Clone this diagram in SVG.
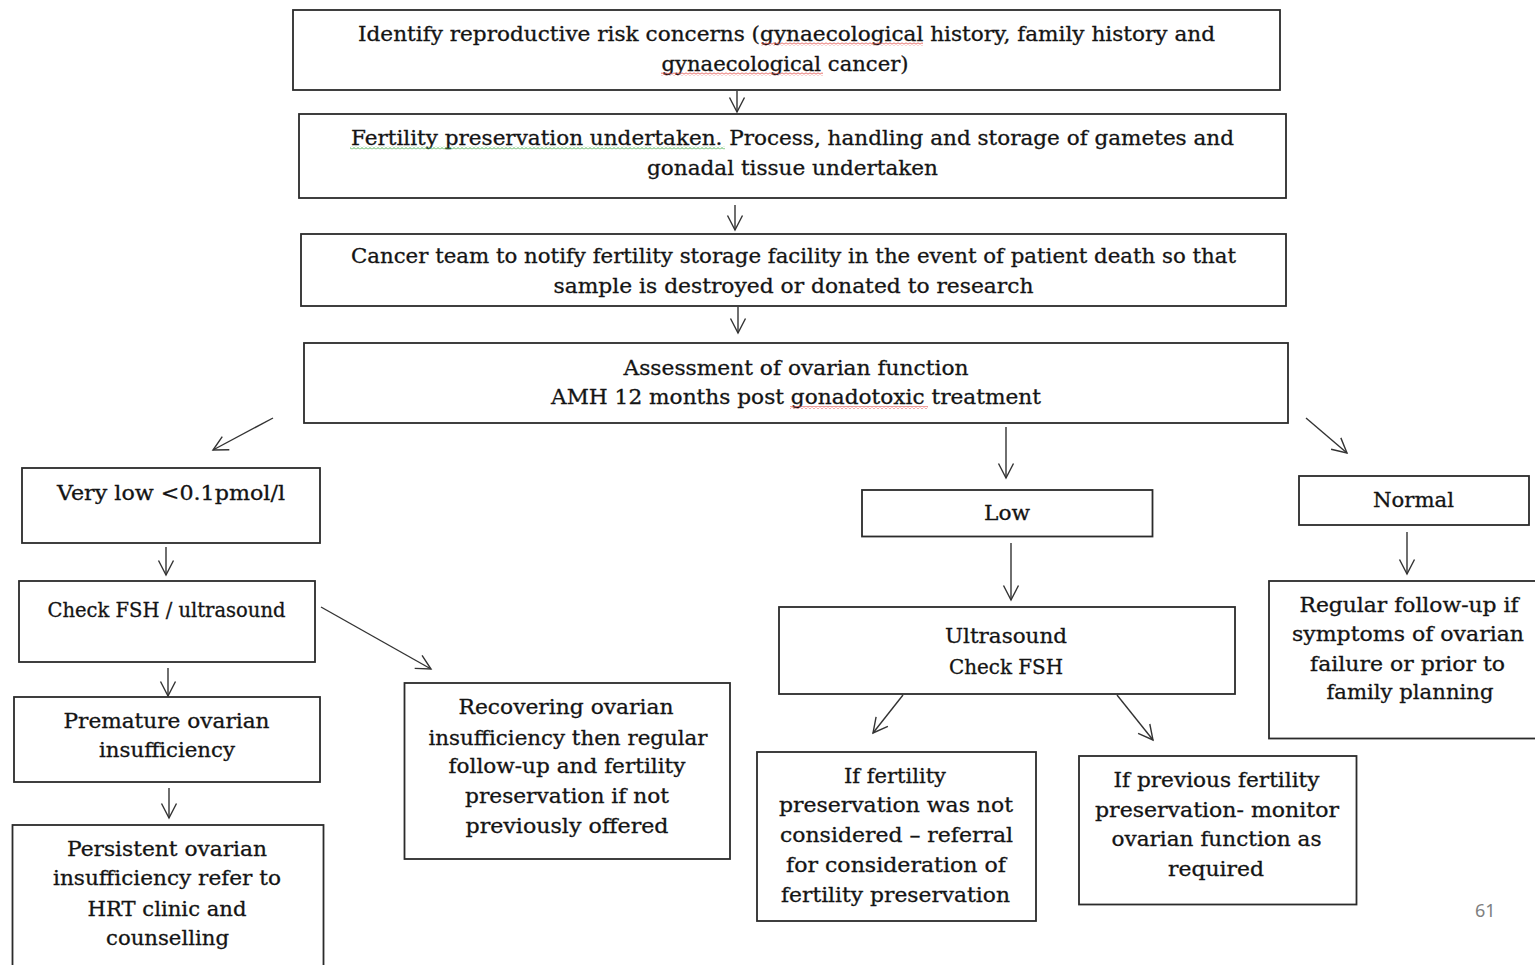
<svg xmlns="http://www.w3.org/2000/svg" width="1535" height="965" viewBox="0 0 1535 965">
  <style>
    .box { fill: #ffffff; stroke: #2b2b2b; stroke-width: 1.8; }
    .t { font-family: "DejaVu Serif", "Liberation Serif", serif; font-size: 20px; fill: #141414; stroke: #141414; stroke-width: 0.3; text-anchor: middle; }
    .edge { stroke: #333333; stroke-width: 1.4; fill: none; marker-end: url(#arr); }
    .pg { font-family: "Noto Sans", "Liberation Sans", sans-serif; font-size: 18px; fill: #808080; }
  </style>
  <defs>
    <marker id="arr" markerUnits="userSpaceOnUse" markerWidth="20" markerHeight="18" viewBox="0 0 20 18" refX="15.5" refY="9" orient="auto">
      <path d="M1,1.5 L15.5,9 L1,16.5" fill="none" stroke="#333333" stroke-width="1.4"/>
    </marker>
    <!-- wavy proofing underlines -->
    <pattern id="waveRed" patternUnits="userSpaceOnUse" width="4" height="3">
      <path d="M0,2.5 L2,0.5 L4,2.5" fill="none" stroke="#e0403a" stroke-width="1"/>
    </pattern>
    <pattern id="waveGreen" patternUnits="userSpaceOnUse" width="4" height="3">
      <path d="M0,2.5 L2,0.5 L4,2.5" fill="none" stroke="#4caf50" stroke-width="1"/>
    </pattern>
  </defs>

  <rect width="1535" height="965" fill="#ffffff"/>

  <g id="connectors">
    <line class="edge" x1="737" y1="91" x2="737" y2="112"/>
    <line class="edge" x1="735" y1="205" x2="735" y2="230"/>
    <line class="edge" x1="738" y1="307" x2="738" y2="333"/>
    <line class="edge" x1="273" y1="418" x2="213" y2="450"/>
    <line class="edge" x1="1006" y1="427" x2="1006" y2="478"/>
    <line class="edge" x1="1306" y1="418" x2="1347" y2="453"/>
    <line class="edge" x1="166" y1="547" x2="166" y2="575"/>
    <line class="edge" x1="1011" y1="543" x2="1011" y2="600"/>
    <line class="edge" x1="1407" y1="532" x2="1407" y2="574"/>
    <line class="edge" x1="321" y1="607" x2="431" y2="669"/>
    <line class="edge" x1="168" y1="668" x2="168" y2="696"/>
    <line class="edge" x1="169" y1="788" x2="169" y2="818"/>
    <line class="edge" x1="903" y1="695" x2="873" y2="733"/>
    <line class="edge" x1="1117" y1="695" x2="1153" y2="740"/>
  </g>

  <g id="identify">
    <rect class="box" x="293" y="10" width="987" height="80"/>
    <text class="t" x="786.5" y="41" textLength="857" lengthAdjust="spacingAndGlyphs">Identify reproductive risk concerns (gynaecological history, family history and</text>
    <text class="t" x="785" y="71" textLength="247" lengthAdjust="spacingAndGlyphs">gynaecological cancer)</text>
    <rect x="761" y="42.5" width="162" height="3" fill="url(#waveRed)"/>
    <rect x="661" y="72.5" width="162" height="3" fill="url(#waveRed)"/>
  </g>

  <g id="preservation">
    <rect class="box" x="299" y="114" width="987" height="84"/>
    <text class="t" x="792.5" y="145" textLength="883" lengthAdjust="spacingAndGlyphs">Fertility preservation undertaken. Process, handling and storage of gametes and</text>
    <text class="t" x="792.5" y="175" textLength="291" lengthAdjust="spacingAndGlyphs">gonadal tissue undertaken</text>
    <rect x="350" y="146.5" width="375" height="3" fill="url(#waveGreen)"/>
  </g>

  <g id="notify">
    <rect class="box" x="301" y="234" width="985" height="72"/>
    <text class="t" x="793.5" y="263" textLength="885" lengthAdjust="spacingAndGlyphs">Cancer team to notify fertility storage facility in the event of patient death so that</text>
    <text class="t" x="793.5" y="293" textLength="480" lengthAdjust="spacingAndGlyphs">sample is destroyed or donated to research</text>
  </g>

  <g id="assessment">
    <rect class="box" x="304" y="343" width="984" height="80"/>
    <text class="t" x="796" y="375" textLength="345" lengthAdjust="spacingAndGlyphs">Assessment of ovarian function</text>
    <text class="t" x="796" y="404" textLength="490" lengthAdjust="spacingAndGlyphs">AMH 12 months post gonadotoxic treatment</text>
    <rect x="790" y="406" width="138" height="3" fill="url(#waveRed)"/>
  </g>

  <g id="very-low">
    <rect class="box" x="22" y="468" width="298" height="75"/>
    <text class="t" x="171" y="500" textLength="228" lengthAdjust="spacingAndGlyphs">Very low &lt;0.1pmol/l</text>
  </g>

  <g id="check-fsh">
    <rect class="box" x="19" y="581" width="296" height="81"/>
    <text class="t" x="166.5" y="617" textLength="238" lengthAdjust="spacingAndGlyphs">Check FSH / ultrasound</text>
  </g>

  <g id="premature">
    <rect class="box" x="14" y="697" width="306" height="85"/>
    <text class="t" x="166.5" y="728" textLength="206" lengthAdjust="spacingAndGlyphs">Premature ovarian</text>
    <text class="t" x="167" y="757" textLength="136" lengthAdjust="spacingAndGlyphs">insufficiency</text>
  </g>

  <g id="persistent">
    <rect class="box" x="12.5" y="825" width="311" height="150"/>
    <text class="t" x="167" y="856" textLength="200" lengthAdjust="spacingAndGlyphs">Persistent ovarian</text>
    <text class="t" x="167" y="885" textLength="228" lengthAdjust="spacingAndGlyphs">insufficiency refer to</text>
    <text class="t" x="167" y="916" textLength="159" lengthAdjust="spacingAndGlyphs">HRT clinic and</text>
    <text class="t" x="167.5" y="945" textLength="123" lengthAdjust="spacingAndGlyphs">counselling</text>
  </g>

  <g id="recovering">
    <rect class="box" x="404.5" y="683" width="325.5" height="176"/>
    <text class="t" x="566" y="714" textLength="215" lengthAdjust="spacingAndGlyphs">Recovering ovarian</text>
    <text class="t" x="568" y="745" textLength="279" lengthAdjust="spacingAndGlyphs">insufficiency then regular</text>
    <text class="t" x="567" y="773" textLength="237" lengthAdjust="spacingAndGlyphs">follow-up and fertility</text>
    <text class="t" x="567" y="803" textLength="204" lengthAdjust="spacingAndGlyphs">preservation if not</text>
    <text class="t" x="567" y="833" textLength="203" lengthAdjust="spacingAndGlyphs">previously offered</text>
  </g>

  <g id="low">
    <rect class="box" x="862" y="490" width="290.5" height="46.5"/>
    <text class="t" x="1007" y="520" textLength="46" lengthAdjust="spacingAndGlyphs">Low</text>
  </g>

  <g id="ultrasound">
    <rect class="box" x="779" y="607" width="456" height="87"/>
    <text class="t" x="1006" y="643" textLength="122" lengthAdjust="spacingAndGlyphs">Ultrasound</text>
    <text class="t" x="1006" y="674" textLength="114" lengthAdjust="spacingAndGlyphs">Check FSH</text>
  </g>

  <g id="not-considered">
    <rect class="box" x="757" y="752" width="279" height="169"/>
    <text class="t" x="895" y="783" textLength="102" lengthAdjust="spacingAndGlyphs">If fertility</text>
    <text class="t" x="896" y="812" textLength="234" lengthAdjust="spacingAndGlyphs">preservation was not</text>
    <text class="t" x="896.5" y="842" textLength="233" lengthAdjust="spacingAndGlyphs">considered – referral</text>
    <text class="t" x="896" y="872" textLength="220" lengthAdjust="spacingAndGlyphs">for consideration of</text>
    <text class="t" x="895.5" y="902" textLength="229" lengthAdjust="spacingAndGlyphs">fertility preservation</text>
  </g>

  <g id="previous">
    <rect class="box" x="1079" y="756" width="277.5" height="148.5"/>
    <text class="t" x="1216.5" y="787" textLength="206" lengthAdjust="spacingAndGlyphs">If previous fertility</text>
    <text class="t" x="1217" y="817" textLength="244" lengthAdjust="spacingAndGlyphs">preservation- monitor</text>
    <text class="t" x="1216.5" y="846" textLength="210" lengthAdjust="spacingAndGlyphs">ovarian function as</text>
    <text class="t" x="1216" y="876" textLength="96" lengthAdjust="spacingAndGlyphs">required</text>
  </g>

  <g id="normal">
    <rect class="box" x="1299" y="476" width="230" height="49"/>
    <text class="t" x="1413.5" y="507" textLength="81" lengthAdjust="spacingAndGlyphs">Normal</text>
  </g>

  <g id="regular">
    <rect class="box" x="1269" y="581" width="270" height="157.5"/>
    <text class="t" x="1409" y="612" textLength="219" lengthAdjust="spacingAndGlyphs">Regular follow-up if</text>
    <text class="t" x="1408" y="641" textLength="232" lengthAdjust="spacingAndGlyphs">symptoms of ovarian</text>
    <text class="t" x="1407.5" y="671" textLength="195" lengthAdjust="spacingAndGlyphs">failure or prior to</text>
    <text class="t" x="1410" y="699" textLength="167" lengthAdjust="spacingAndGlyphs">family planning</text>
  </g>

  <text class="pg" x="1475" y="917">61</text>
</svg>
